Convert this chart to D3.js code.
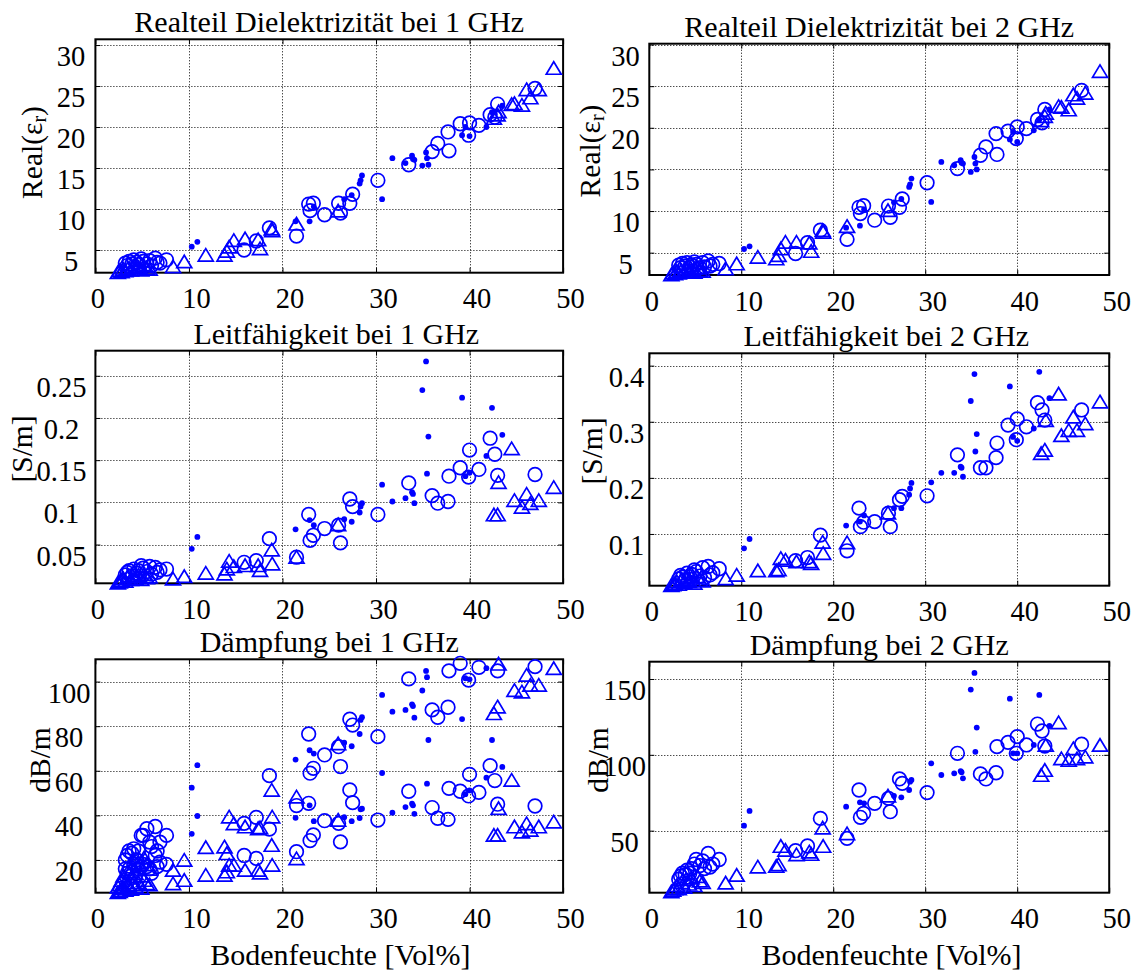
<!DOCTYPE html>
<html><head><meta charset="utf-8">
<script src="https://cdn.jsdelivr.net/npm/d3@7"></script>
<style>
body{margin:0;background:#fff}
svg{display:block}
text{font-family:"Liberation Serif","Times New Roman",serif;fill:#000}
</style>
</head><body>
<svg id="chart" width="1136" height="971"></svg>
<script>
// ---------------- DATA ----------------
const xTicks = [0, 10, 20, 30, 40, 50];
const xLabel = "Bodenfeuchte [Vol%]";

// soil moisture (Vol%) of each sample, per marker series
const xDots = [10.3, 10.9, 21.4, 22.9, 23.35, 26.6, 27.4, 28.25, 28.35, 28.5, 30.65, 31.75, 33.15, 33.85, 33.95, 34.1, 34.95, 35.35, 35.45, 35.6, 39.2, 39.55, 40.0, 41.8, 42.4, 43.5];
const xCircles = [3.2, 3.4, 3.6, 3.9, 4.1, 4.4, 4.6, 4.9, 5.1, 5.5, 5.8, 6.0, 6.4, 6.6, 6.9, 7.6,
  15.9, 17.2, 18.6, 21.5, 22.8, 22.95, 23.3, 24.5, 26.0, 26.2, 27.2, 27.5, 30.2, 33.5, 36.0, 36.6, 37.7, 37.8, 39.0, 40.0, 39.9, 41.0, 42.2, 42.7, 43.0, 47.0];
const xTriangles = [2.4, 2.6, 2.8, 3.0, 3.2, 3.5, 3.8, 4.0, 4.3, 4.6, 4.9, 5.2, 5.5, 5.8,
  8.3, 9.5, 11.8, 13.8, 14.05, 14.3, 14.8, 16.0, 17.4, 17.6, 18.85, 18.9, 21.5, 25.95, 42.6, 43.0, 43.1, 44.5, 44.8, 45.6, 46.1, 46.5, 47.4, 49.0];

// Realteil Dielektrizitaet 1 GHz
const eps1Dots = [5.4, 6.0, 8.5, 8.5, 10.3, 11.2, 11.7, 13.1, 13.5, 14.1, 11.2, 16.2, 15.6, 16.5, 16.1, 16.0, 15.3, 16.9, 16.2, 15.4, 19.0, 20.0, 18.9, 20.0, 21.8, 22.6];
const eps1Circles = [3.4, 3.1, 3.6, 3.3, 3.8, 3.5, 3.2, 3.9, 3.6, 3.3, 3.7, 3.1, 4.0, 3.5, 3.4, 3.8,
  5.0, 6.1, 7.7, 6.7, 10.6, 9.8, 10.7, 9.3, 10.7, 9.5, 10.7, 11.8, 13.5, 15.4, 17.0, 18.0, 19.4, 17.1, 20.4, 20.5, 19.0, 20.2, 21.5, 21.2, 22.8, 24.7];
const eps1Triangles = [2.3, 2.5, 2.4, 2.7, 2.5, 2.8, 2.6, 3.0, 2.7, 2.9, 2.6, 3.1, 2.8, 2.7,
  3.0, 3.6, 4.4, 4.4, 4.9, 5.4, 6.2, 6.4, 6.3, 5.2, 7.6, 7.4, 8.2, 9.8, 21.1, 21.5, 21.9, 22.8, 22.9, 22.7, 24.6, 23.6, 24.6, 27.2];

// Realteil Dielektrizitaet 2 GHz
const eps2Dots = [5.44, 5.76, 8.0, 8.25, 10.2, 11.05, 11.45, 12.9, 13.2, 13.9, 11.1, 15.9, 15.5, 16.1, 15.8, 15.7, 14.7, 16.5, 15.7, 15.0, 18.6, 19.5, 18.3, 19.7, 21.0, 22.2];
const eps2Circles = [3.5, 3.2, 3.7, 3.4, 3.8, 3.3, 3.5, 3.9, 3.6, 3.2, 3.8, 3.3, 4.0, 3.4, 3.6, 3.7,
  4.9, 6.2, 7.7, 6.6, 10.45, 9.7, 10.65, 8.9, 10.6, 9.25, 10.45, 11.45, 13.4, 15.1, 16.7, 17.7, 19.3, 16.8, 19.6, 20.1, 18.7, 19.9, 21.0, 20.6, 22.2, 24.5];
const eps2Triangles = [2.4, 2.6, 2.5, 2.8, 2.6, 2.9, 2.7, 3.1, 2.8, 3.0, 2.7, 3.2, 2.9, 2.8,
  3.1, 3.7, 4.5, 4.3, 4.7, 5.5, 6.3, 6.3, 6.2, 5.2, 7.7, 7.5, 8.2, 10.1, 20.9, 21.4, 21.8, 22.6, 22.5, 22.2, 24.0, 23.6, 24.2, 26.8];

// Leitfaehigkeit 1 GHz [S/m]
const sig1Dots = [0.045, 0.059, 0.068, 0.079, 0.073, 0.080, 0.077, 0.088, 0.095, 0.099, 0.121, 0.101, 0.105, 0.112, 0.110, 0.099, 0.233, 0.267, 0.134, 0.178, 0.224, 0.131, 0.135, 0.155, 0.212, 0.180];
const sig1Circles = [0.014, 0.017, 0.019, 0.013, 0.021, 0.016, 0.019, 0.025, 0.022, 0.018, 0.024, 0.015, 0.023, 0.017, 0.020, 0.021,
  0.029, 0.031, 0.057, 0.035, 0.0856, 0.055, 0.061, 0.069, 0.073, 0.052, 0.104, 0.095, 0.0856, 0.123, 0.108, 0.099, 0.101, 0.131, 0.141, 0.162, 0.130, 0.139, 0.176, 0.157, 0.132, 0.133];
const sig1Triangles = [0.005, 0.006, 0.008, 0.010, 0.007, 0.012, 0.009, 0.013, 0.010, 0.014, 0.009, 0.015, 0.011, 0.012,
  0.0097, 0.0125, 0.0164, 0.0156, 0.0215, 0.0306, 0.0243, 0.0255, 0.0255, 0.0196, 0.044, 0.0275, 0.0354, 0.074, 0.0856, 0.0856, 0.124, 0.164, 0.1026, 0.0947, 0.110, 0.099, 0.1026, 0.118];

// Leitfaehigkeit 2 GHz [S/m]
const sig2Dots = [0.0745, 0.091, 0.115, 0.122, 0.133, 0.146, 0.146, 0.170, 0.181, 0.191, 0.192, 0.209, 0.209, 0.220, 0.218, 0.202, 0.337, 0.385, 0.247, 0.278, 0.363, 0.273, 0.266, 0.288, 0.389, 0.342];
const sig2Circles = [0.020, 0.026, 0.023, 0.018, 0.030, 0.024, 0.028, 0.036, 0.033, 0.025, 0.040, 0.022, 0.042, 0.027, 0.031, 0.038,
  0.0525, 0.058, 0.098, 0.070, 0.146, 0.113, 0.121, 0.122, 0.137, 0.113, 0.161, 0.167, 0.168, 0.241, 0.218, 0.218, 0.236, 0.262, 0.294, 0.305, 0.268, 0.291, 0.334, 0.321, 0.303, 0.321];
const sig2Triangles = [0.009, 0.010, 0.012, 0.015, 0.011, 0.018, 0.014, 0.020, 0.016, 0.022, 0.013, 0.024, 0.018, 0.017,
  0.021, 0.027, 0.035, 0.035, 0.037, 0.057, 0.054, 0.051, 0.051, 0.048, 0.086, 0.066, 0.085, 0.138, 0.244, 0.250, 0.303, 0.350, 0.276, 0.285, 0.309, 0.285, 0.297, 0.336];

// Daempfung 1 GHz [dB/m] - two values per sample (null = outside the visible range)
const att1aDots = [52.4, 62.5, 65.0, 69.2, 67.7, 72.6, 71.0, 76.5, 82.8, 84.0, 94.0, 86.5, 87.3, 89.8, 89.0, 83.8, null, null, 102, null, null, 101.5, 101, 106, null, null];
const att1bDots = [31.7, 39.7, 38.9, 44.5, 37.4, 39.2, 37.4, 38.8, 42.7, 43.0, 59.0, 41.2, 43.7, 45.2, 44.5, 40.7, 96.0, 104.8, 54.2, 73.8, 83.2, 49.5, 51.2, 56.9, 73.8, 61.7];
const att1aCircles = [20, 22, 24, 23, 25, 20, 24, 31, 31, 34, 28, 26, 35, 24, 28, 31,
  36.4, 39.1, 57.8, 44.4, 76.5, 58.9, 61.1, 67.1, 70.8, 61.9, 83.1, 80.5, 75.3, 101.2, 87.3, 84.0, 88.5, 104.8, 108.2, null, 100.7, 106.4, null, null, 104.8, 106.7];
const att1bCircles = [16, 14, 16, 13, 18, 20, 16, 17, 18, 17, 16, 14, 22, 17, 19, 18,
  22.0, 20.7, 33.8, 23.7, 45.4, 28.7, 31.2, 37.6, 36.4, 28.1, 51.4, 45.7, 37.9, 50.8, 43.5, 38.7, 38.2, 52.1, 50.8, 58.4, 48.7, 50.3, 62.3, 55.6, 45.0, 44.2];
const att1aTriangles = [8, 9, 11, 13, 10, 15, 12, 17, 14, 19, 13, 21, 18, 16,
  15.5, 20.0, 25.7, 26.0, 23.0, 39.4, 36.4, 35.0, 34.2, 34.6, 51.4, 39.4, 48.4, 72.3, 85.8, 88.8, 108, null, 96.2, 95.5, 103, 98.5, 98.5, 106];
const att1bTriangles = [5.5, 6, 6.5, 7.5, 6.5, 8.5, 7, 9, 8, 10, 7.5, 11, 9.5, 9,
  9.5, 11.0, 13.3, 13.3, 14.8, 17.8, 17.8, 15.5, 15.5, 14.3, 26.7, 17.8, 20.7, 38, 31.2, 31.2, 43.2, 55.9, 35.0, 32.7, 36.4, 33.5, 35.0, 37.2];

// Daempfung 2 GHz [dB/m]
const att2Dots = [53.3, 63, 65.8, 68.7, 68, 73, 72, 76.8, 82.3, 83.4, 94.4, 86.7, 87.8, 89.3, 88.5, 84.5, 143, 154, 102, 118, 137, 101, 101, 106.5, 139.5, 119];
const att2Circles = [18, 20, 22, 21, 24, 22, 25, 28, 31, 27, 30, 25, 35, 26, 28, 31,
  36.8, 39.9, 58.1, 44.9, 76.8, 58.8, 61.4, 68.0, 71.3, 62.5, 84.1, 81.2, 75.1, 101, 87.4, 84.1, 88.2, 105.4, 108.2, 112, 101, 106.5, 120.3, 115.7, 105.8, 107];
const att2Triangles = [10, 11, 12, 14, 12, 16, 13, 18, 15, 19, 14, 20, 17, 16,
  15.7, 20.8, 26.3, 26.7, 27.8, 39.9, 37.3, 34.4, 36.2, 34.6, 52, 39.9, 48.2, 73.1, 86.7, 90, 106.5, 121.4, 97.7, 96.6, 104.3, 97.7, 98.8, 106.5];

// y ticks per panel
const yTicksEps = [5, 10, 15, 20, 25, 30];
const yTicksSig1 = [0.05, 0.1, 0.15, 0.2, 0.25];
const yTicksSig2 = [0.1, 0.2, 0.3, 0.4];
const yTicksAtt1 = [20, 40, 60, 80, 100];
const yTicksAtt2 = [50, 100, 150];

// ---------------- LAYOUT ----------------
const panels = [
  {title: "Realteil Dielektrizität bei 1 GHz", tdx: 0, box: [95.4, 563.1, 39.3, 272.7], ydom: [2.23, 30.7], yticks: yTicksEps,
   ylab: "eps", ylabPos: [32, 152.5], ytickX: 71, xlab: false,
   series: [[xCircles, eps1Circles, "c"], [xTriangles, eps1Triangles, "t"], [xDots, eps1Dots, "d"]]},
  {title: "Realteil Dielektrizität bei 2 GHz", tdx: 0, box: [649.3, 1109.2, 43.7, 275], ydom: [2.32, 30.1], yticks: yTicksEps,
   ylab: "eps", ylabPos: [590, 151], ytickX: 625.5, xlab: false,
   series: [[xCircles, eps2Circles, "c"], [xTriangles, eps2Triangles, "t"], [xDots, eps2Dots, "d"]]},
  {title: "Leitfähigkeit bei 1 GHz", tdx: 7, box: [95.4, 563.1, 350.7, 583.3], ydom: [0.0041, 0.2797], yticks: yTicksSig1,
   ylab: "[S/m]", ylabPos: [22, 449], ytickX: 61.5, xlab: false,
   series: [[xCircles, sig1Circles, "c"], [xTriangles, sig1Triangles, "t"], [xDots, sig1Dots, "d"]]},
  {title: "Leitfähigkeit bei 2 GHz", tdx: 7, box: [649.3, 1109.2, 353.3, 585.7], ydom: [0.0078, 0.422], yticks: yTicksSig2,
   ylab: "[S/m]", ylabPos: [592, 451], ytickX: 626.5, xlab: false,
   series: [[xCircles, sig2Circles, "c"], [xTriangles, sig2Triangles, "t"], [xDots, sig2Dots, "d"]]},
  {title: "Dämpfung bei 1 GHz", tdx: 0, box: [95.4, 563.1, 659.3, 892.7], ydom: [5.3, 110], yticks: yTicksAtt1,
   ylab: "dB/m", ylabPos: [40, 760], ytickX: 69, xlab: true, xlabX: 340.4,
   series: [[xCircles, att1aCircles, "c"], [xCircles, att1bCircles, "c"], [xTriangles, att1aTriangles, "t"], [xTriangles, att1bTriangles, "t"],
            [xDots, att1aDots, "d"], [xDots, att1bDots, "d"]]},
  {title: "Dämpfung bei 2 GHz", tdx: 0, box: [649.3, 1109.2, 661.7, 892.7], ydom: [9.1, 161.4], yticks: yTicksAtt2,
   ylab: "dB/m", ylabPos: [597.5, 760], ytickX: 624.5, xlab: true, xlabX: 891.5,
   series: [[xCircles, att2Circles, "c"], [xTriangles, att2Triangles, "t"], [xDots, att2Dots, "d"]]}
];

const BLUE = "#0000ff";
const TICK_FS = 28.5, TITLE_FS = 30, LABEL_FS = 29.5;

const svg = d3.select("#chart");
svg.append("rect").attr("width", 1136).attr("height", 971).attr("fill", "#fff");

function triPath(w, h) {
  return `M0,${-h / 2}L${w / 2},${h / 2}L${-w / 2},${h / 2}Z`;
}

panels.forEach(p => {
  const [L, R, T, B] = p.box;
  const x = d3.scaleLinear().domain([0, 50]).range([L, R]);
  const y = d3.scaleLinear().domain(p.ydom).range([B, T]);
  const g = svg.append("g");

  // grid
  const grid = g.append("g").attr("stroke", "#000").attr("stroke-width", 1).attr("stroke-dasharray", "1,2").attr("fill", "none");
  xTicks.filter(v => v > 0 && v < 50).forEach(v => {
    const px = Math.round(x(v)) + 0.5;
    grid.append("line").attr("x1", px).attr("x2", px).attr("y1", T).attr("y2", B);
  });
  p.yticks.forEach(v => {
    const py = Math.round(y(v)) + 0.5;
    if (py > T + 1.5 && py < B - 1)
      grid.append("line").attr("x1", L).attr("x2", R).attr("y1", py).attr("y2", py);
  });

  // axes (inward ticks on all four sides)
  const axB = g.append("g").attr("transform", `translate(0,${B})`)
    .call(d3.axisBottom(x).tickValues(xTicks).tickSize(-5).tickPadding(15.5).tickFormat(d3.format("d")));
  const axT = g.append("g").attr("transform", `translate(0,${T})`)
    .call(d3.axisTop(x).tickValues(xTicks).tickSize(-5).tickFormat(""));
  const axL = g.append("g").attr("transform", `translate(${L},0)`)
    .call(d3.axisLeft(y).tickValues(p.yticks).tickSize(-5).tickFormat(v => String(+v.toFixed(3))));
  const axR = g.append("g").attr("transform", `translate(${R},0)`)
    .call(d3.axisRight(y).tickValues(p.yticks).tickSize(-5).tickFormat(""));
  [axB, axT, axL, axR].forEach(a => {
    a.attr("font-family", null).attr("font-size", null);
    a.select(".domain").remove();
    a.selectAll(".tick line").attr("stroke", "#000").attr("stroke-width", 1);
  });
  axB.selectAll(".tick text").attr("font-size", TICK_FS).attr("fill", "#000")
    .attr("dx", d => (String(d).length > 1 ? 7 : 2));
  axL.selectAll(".tick text").attr("font-size", TICK_FS).attr("fill", "#000")
    .attr("text-anchor", "middle").attr("x", p.ytickX - L).attr("dy", null).attr("y", 20.5);

  // box
  g.append("rect").attr("x", L).attr("y", T).attr("width", R - L).attr("height", B - T)
    .attr("fill", "none").attr("stroke", "#000").attr("stroke-width", 2);

  // title
  g.append("text").attr("x", (L + R) / 2 + p.tdx).attr("y", T - 7).attr("text-anchor", "middle")
    .attr("font-size", TITLE_FS).text(p.title);

  // y label
  const yl = g.append("text").attr("text-anchor", "middle").attr("dominant-baseline", "central")
    .attr("font-size", LABEL_FS)
    .attr("transform", `translate(${p.ylabPos[0]},${p.ylabPos[1]}) rotate(-90)`);
  if (p.ylab === "eps") {
    yl.append("tspan").text("Real(ε");
    yl.append("tspan").attr("font-size", 20).attr("dy", 7).text("r");
    yl.append("tspan").attr("dy", -7).text(")");
  } else {
    yl.text(p.ylab);
  }

  // x label
  if (p.xlab) {
    g.append("text").attr("x", p.xlabX).attr("y", 965).attr("text-anchor", "middle")
      .attr("font-size", LABEL_FS + 0.5).text(xLabel);
  }

  // markers
  const mk = g.append("g");
  p.series.forEach(([xs, ys, kind]) => {
    const pts = xs.map((xv, i) => [xv, ys[i]])
      .filter(d => d[1] != null && d[1] >= p.ydom[0] && d[1] <= p.ydom[1]);
    if (kind === "c") {
      mk.selectAll(null).data(pts).join("circle")
        .attr("cx", d => x(d[0])).attr("cy", d => y(d[1])).attr("r", 6.8)
        .attr("fill", "none").attr("stroke", BLUE).attr("stroke-width", 1.7);
    } else if (kind === "t") {
      mk.selectAll(null).data(pts).join("path")
        .attr("d", triPath(15, 12.5))
        .attr("transform", d => `translate(${x(d[0])},${y(d[1])})`)
        .attr("fill", "none").attr("stroke", BLUE).attr("stroke-width", 1.7).attr("stroke-linejoin", "miter");
    } else {
      mk.selectAll(null).data(pts).join("circle")
        .attr("cx", d => x(d[0])).attr("cy", d => y(d[1])).attr("r", 2.9)
        .attr("fill", BLUE);
    }
  });
});
</script>
</body></html>
